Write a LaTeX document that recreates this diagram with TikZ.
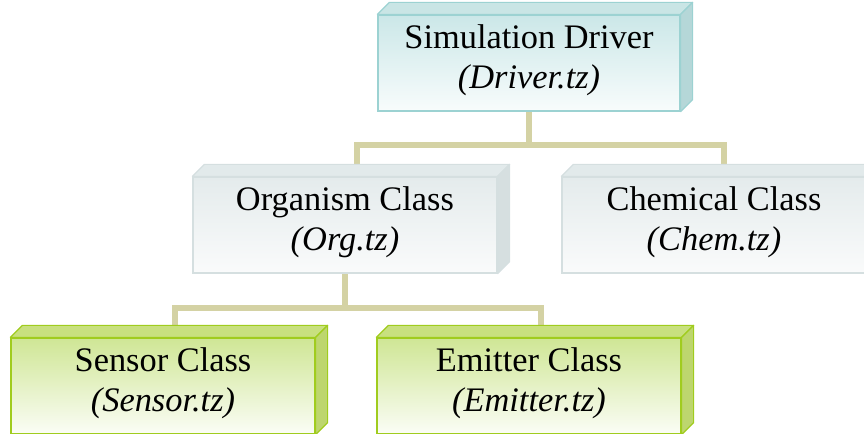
\documentclass[tikz,border=0pt]{standalone}
\usepackage{fontspec}
\setmainfont{Liberation Serif}
\usetikzlibrary{calc}

\definecolor{drvline}{HTML}{9CD2D2}
\definecolor{drvtop}{HTML}{CBE7E8}
\definecolor{drvbot}{HTML}{F8FCFC}
\definecolor{drvface}{HTML}{C9E5E5}
\definecolor{drvside}{HTML}{B5D7D8}
\definecolor{midline}{HTML}{D5DFE0}
\definecolor{midtop}{HTML}{E4EBEC}
\definecolor{midbot}{HTML}{FAFBFB}
\definecolor{midface}{HTML}{E2EAEB}
\definecolor{midside}{HTML}{D6DFE0}
\definecolor{leafline}{HTML}{A0CC1E}
\definecolor{leaftop}{HTML}{CFE695}
\definecolor{leafbot}{HTML}{FBFDF6}
\definecolor{leafface}{HTML}{C8E07F}
\definecolor{leafside}{HTML}{BDD66E}
\definecolor{connclr}{HTML}{D4D2A4}

% top and right faces giving a box its depth
\newcommand\depthfaces[4]{%
  \filldraw[fill=#2, draw=#4, line width=1.2bp, line join=round]
    (#1.north west) -- ++(12,-12) -- ($(#1.north east)+(12,-12)$) -- (#1.north east) -- cycle;
  \filldraw[fill=#3, draw=#4, line width=1.2bp, line join=round]
    (#1.north east) -- ++(12,-12) -- ($(#1.south east)+(12,-12)$) -- (#1.south east) -- cycle;
}

\begin{document}
\begin{tikzpicture}[x=1bp, y=-1bp,
  box/.style={rectangle, minimum width=304bp, minimum height=96bp, inner sep=0pt,
    line width=1.2bp},
  caption/.style={align=center, font=\fontsize{34.5}{40}\selectfont, yshift=3bp},
  drvbox/.style={box, draw=drvline, top color=drvtop, bottom color=drvbot},
  midbox/.style={box, draw=midline, top color=midtop, bottom color=midbot},
  leafbox/.style={box, draw=leafline, top color=leaftop, bottom color=leafbot},
  conn/.style={draw=connclr, line width=6bp, line join=miter}]
\useasboundingbox (0,0) rectangle (864,434);

% box positions
\coordinate (pdrv) at (529,63);
\coordinate (porg) at (345,225);
\coordinate (pchem) at (714,225);
\coordinate (psens) at (163,386);
\coordinate (pemit) at (529,386);

% connectors first, so the boxes sit on top of them
\path (pdrv) ++(0,48) coordinate (drvs);
\path (drvs) ++(0,34.5) coordinate (j1);
\path (porg) ++(12,-60) coordinate (orgt);
\path (pchem) ++(10,-60) coordinate (chemt);
\draw[conn] (drvs) -- (j1);
\draw[conn] (orgt) |- (j1) -| (chemt);
\path (porg) ++(0,48) coordinate (orgs);
\path (orgs) ++(0,35) coordinate (j2);
\path (psens) ++(12,-60) coordinate (senst);
\path (pemit) ++(12,-60) coordinate (emitt);
\draw[conn] (orgs) -- (j2);
\draw[conn] (senst) |- (j2) -| (emitt);

% boxes with their captions
\node[drvbox, minimum width=302bp] (drv) at (pdrv) {};
\depthfaces{drv}{drvface}{drvside}{drvline}
\node[caption] (drvtxt) at (drv.center) {Simulation Driver\\\textit{(Driver.tz)}};

\node[midbox] (org) at (porg) {};
\depthfaces{org}{midface}{midside}{midline}
\node[caption] (orgtxt) at (org.center) {Organism Class\\\textit{(Org.tz)}};

\node[midbox] (chem) at (pchem) {};
\depthfaces{chem}{midface}{midside}{midline}
\node[caption] (chemtxt) at (chem.center) {Chemical Class\\\textit{(Chem.tz)}};

\node[leafbox] (sens) at (psens) {};
\depthfaces{sens}{leafface}{leafside}{leafline}
\node[caption] (senstxt) at (sens.center) {Sensor Class\\\textit{(Sensor.tz)}};

\node[leafbox] (emit) at (pemit) {};
\depthfaces{emit}{leafface}{leafside}{leafline}
\node[caption] (emittxt) at (emit.center) {Emitter Class\\\textit{(Emitter.tz)}};
\end{tikzpicture}
\end{document}
